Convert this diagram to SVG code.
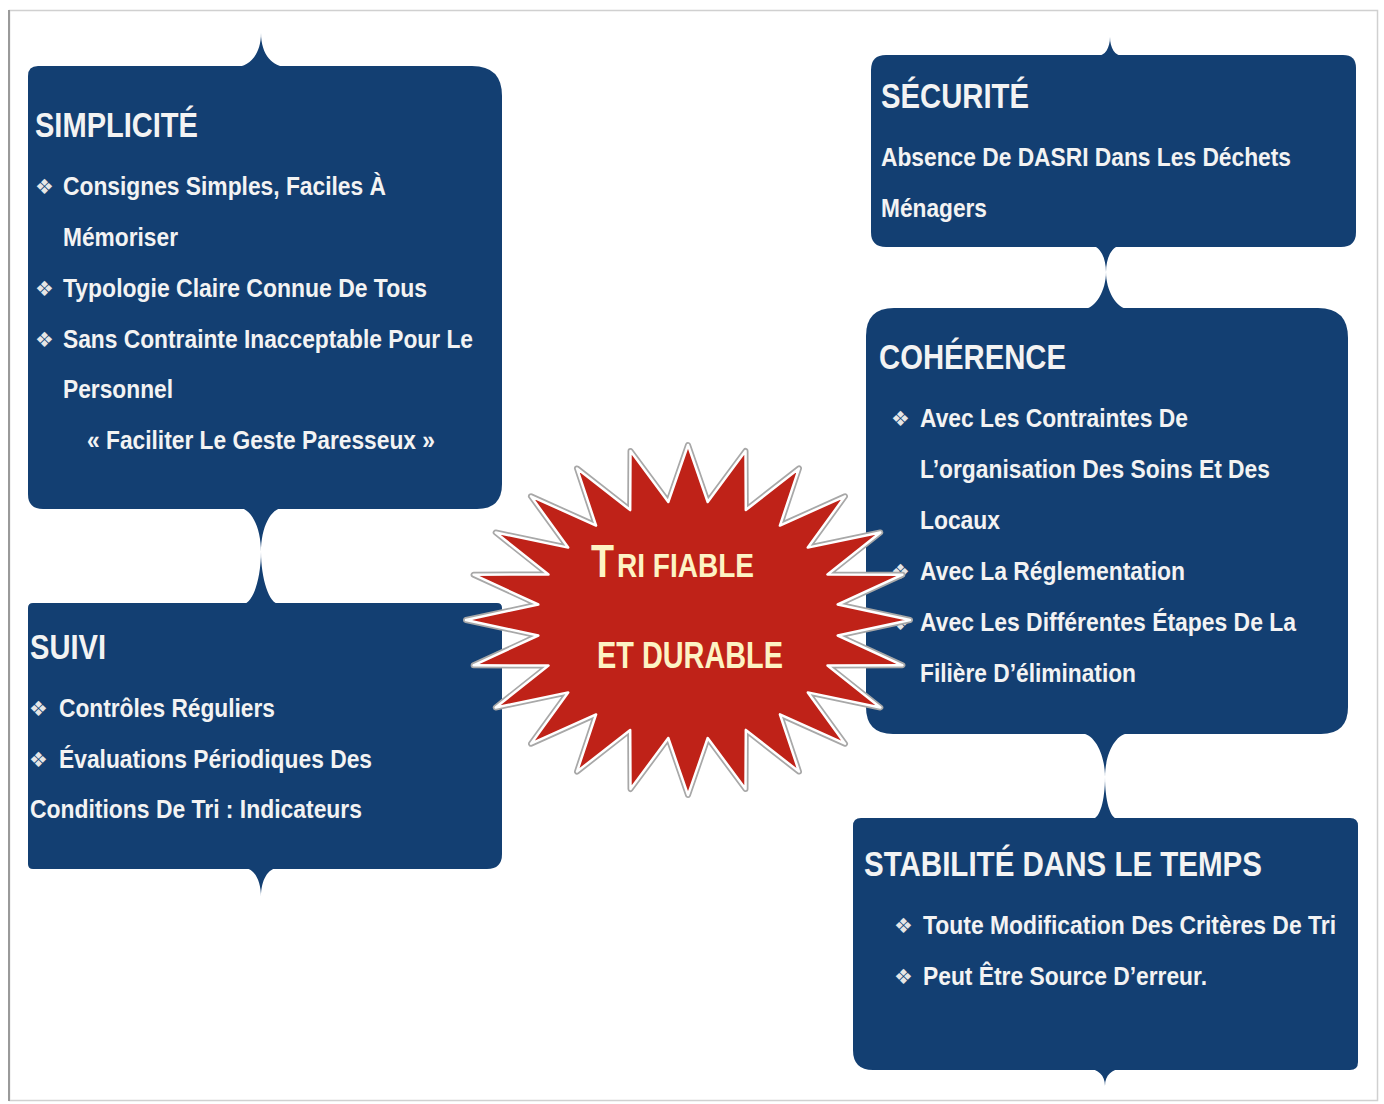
<svg xmlns="http://www.w3.org/2000/svg" width="1384" height="1104" viewBox="0 0 1384 1104">
<style>
.box{fill:#133f72}
.t{font-family:"Liberation Sans",Arial,sans-serif;font-weight:bold;fill:#f3f3f3}
.h{font-size:35px}
.b{font-size:25px}
.bul{font-family:"DejaVu Sans",sans-serif;font-size:21px;fill:#e6e6e6}
.st{font-family:"Liberation Sans",Arial,sans-serif;font-weight:bold;fill:#fdf3c4}
</style>
<rect x="0" y="0" width="1384" height="1104" fill="#ffffff"/>
<rect x="9.5" y="10.5" width="1368" height="1090" fill="#ffffff" stroke="#d0d0d0" stroke-width="1.5"/>
<line x1="9" y1="10" x2="9" y2="1101" stroke="#9a9a9a" stroke-width="2"/>

<g id="connectors">
  <path class="box" d="M235,67 C249,67 261,55 261,33 C261,55 273,67 287,67 Z"/>
  <path class="box" d="M239,508 C251,508 261,527 261,552 C261,578 253,604 243,604 L279,604 C269,604 261,578 261,552 C261,527 271,508 283,508 Z"/>
  <path class="box" d="M244,868 C254,868 261,880 261,897 C261,880 268,868 278,868 Z"/>
  <path class="box" d="M1097,56 C1105,56 1110,48 1110,37 C1110,48 1115,56 1123,56 Z"/>
  <path class="box" d="M1092,246 C1100,246 1106,258 1106,272 C1106,290 1096,309 1083,309 L1129,309 C1116,309 1106,290 1106,272 C1106,258 1112,246 1120,246 Z"/>
  <path class="box" d="M1080,733 C1095,733 1105,755 1105,777 C1105,800 1100,819 1092,819 L1118,819 C1110,819 1105,800 1105,777 C1105,755 1115,733 1130,733 Z"/>
  <path class="box" d="M1088,1069 C1098,1069 1105,1075 1105,1086 C1105,1075 1112,1069 1122,1069 Z"/>
</g>

<g id="simplicite">
  <path class="box" d="M38,66 H472 Q502,66 502,96 V484 Q502,509 477,509 H43 Q28,509 28,494 V76 Q28,66 38,66 Z"/>
  <text class="t h" x="35" y="137" textLength="163" lengthAdjust="spacingAndGlyphs">SIMPLICITÉ</text>
  <text class="bul" x="35" y="194">❖</text>
  <text class="t b" x="63" y="195" textLength="323" lengthAdjust="spacingAndGlyphs">Consignes Simples, Faciles À</text>
  <text class="t b" x="63" y="246" textLength="115" lengthAdjust="spacingAndGlyphs">Mémoriser</text>
  <text class="bul" x="35" y="296">❖</text>
  <text class="t b" x="63" y="297" textLength="364" lengthAdjust="spacingAndGlyphs">Typologie Claire Connue De Tous</text>
  <text class="bul" x="35" y="347">❖</text>
  <text class="t b" x="63" y="348" textLength="410" lengthAdjust="spacingAndGlyphs">Sans Contrainte Inacceptable Pour Le</text>
  <text class="t b" x="63" y="398" textLength="110" lengthAdjust="spacingAndGlyphs">Personnel</text>
  <text class="t b" x="87" y="449" textLength="348" lengthAdjust="spacingAndGlyphs">« Faciliter Le Geste Paresseux »</text>
</g>

<g id="suivi">
  <path class="box" d="M33,603 H497 Q502,603 502,608 V854 Q502,869 487,869 H33 Q28,869 28,864 V608 Q28,603 33,603 Z"/>
  <text class="t h" x="30" y="659" textLength="76" lengthAdjust="spacingAndGlyphs">SUIVI</text>
  <text class="bul" x="29" y="716">❖</text>
  <text class="t b" x="59" y="717" textLength="216" lengthAdjust="spacingAndGlyphs">Contrôles Réguliers</text>
  <text class="bul" x="29" y="767">❖</text>
  <text class="t b" x="59" y="768" textLength="313" lengthAdjust="spacingAndGlyphs">Évaluations Périodiques Des</text>
  <text class="t b" x="30" y="818" textLength="332" lengthAdjust="spacingAndGlyphs">Conditions De Tri : Indicateurs</text>
</g>

<g id="securite">
  <path class="box" d="M886,55 H1343 Q1356,55 1356,68 V232 Q1356,247 1341,247 H886 Q871,247 871,232 V70 Q871,55 886,55 Z"/>
  <text class="t h" x="881" y="108" textLength="148" lengthAdjust="spacingAndGlyphs">SÉCURITÉ</text>
  <text class="t b" x="881" y="166" textLength="410" lengthAdjust="spacingAndGlyphs">Absence De DASRI Dans Les Déchets</text>
  <text class="t b" x="881" y="217" textLength="106" lengthAdjust="spacingAndGlyphs">Ménagers</text>
</g>

<g id="coherence">
  <path class="box" d="M894,308 H1318 Q1348,308 1348,338 V707 Q1348,734 1321,734 H893 Q866,734 866,707 V336 Q866,308 894,308 Z"/>
  <text class="t h" x="879" y="369" textLength="187" lengthAdjust="spacingAndGlyphs">COHÉRENCE</text>
  <text class="bul" x="891" y="426">❖</text>
  <text class="t b" x="920" y="427" textLength="268" lengthAdjust="spacingAndGlyphs">Avec Les Contraintes De</text>
  <text class="t b" x="920" y="478" textLength="350" lengthAdjust="spacingAndGlyphs">L’organisation Des Soins Et Des</text>
  <text class="t b" x="920" y="529" textLength="80" lengthAdjust="spacingAndGlyphs">Locaux</text>
  <text class="bul" x="891" y="579">❖</text>
  <text class="t b" x="920" y="580" textLength="265" lengthAdjust="spacingAndGlyphs">Avec La Réglementation</text>
  <text class="bul" x="891" y="630">❖</text>
  <text class="t b" x="920" y="631" textLength="376" lengthAdjust="spacingAndGlyphs">Avec Les Différentes Étapes De La</text>
  <text class="t b" x="920" y="682" textLength="216" lengthAdjust="spacingAndGlyphs">Filière D’élimination</text>
</g>

<g id="stabilite">
  <path class="box" d="M861,818 H1350 Q1358,818 1358,826 V1062 Q1358,1070 1350,1070 H873 Q853,1070 853,1050 V826 Q853,818 861,818 Z"/>
  <text class="t h" x="864" y="876" textLength="398" lengthAdjust="spacingAndGlyphs">STABILITÉ DANS LE TEMPS</text>
  <text class="bul" x="894" y="933">❖</text>
  <text class="t b" x="923" y="934" textLength="413" lengthAdjust="spacingAndGlyphs">Toute Modification Des Critères De Tri</text>
  <text class="bul" x="894" y="984">❖</text>
  <text class="t b" x="923" y="985" textLength="284" lengthAdjust="spacingAndGlyphs">Peut Être Source D’erreur.</text>
</g>

<g id="star">
  <polygon points="688,445 707.7,502 745.5,451 745.8,510.1 799,468.4 779.9,525.6 845,496.3 807.8,547.6 880.3,532.5 827.5,574.5 902.4,574.7 837.7,604.5 910,620 837.7,635.5 902.4,665.3 827.5,665.5 880.3,707.5 807.8,692.4 845,743.7 779.9,714.4 799,771.6 745.8,729.9 745.5,789 707.7,738 688,795 668.3,738 630.5,789 630.2,729.9 577,771.6 596.1,714.4 531,743.7 568.2,692.4 495.7,707.5 548.5,665.5 473.6,665.3 538.3,635.5 466,620 538.3,604.5 473.6,574.7 548.5,574.5 495.7,532.5 568.2,547.6 531,496.3 596.1,525.6 577,468.4 630.2,510.1 630.5,451 668.3,502" fill="#bf2218" stroke="#a8a8a8" stroke-width="6" stroke-linejoin="round"/>
  <polygon points="688,445 707.7,502 745.5,451 745.8,510.1 799,468.4 779.9,525.6 845,496.3 807.8,547.6 880.3,532.5 827.5,574.5 902.4,574.7 837.7,604.5 910,620 837.7,635.5 902.4,665.3 827.5,665.5 880.3,707.5 807.8,692.4 845,743.7 779.9,714.4 799,771.6 745.8,729.9 745.5,789 707.7,738 688,795 668.3,738 630.5,789 630.2,729.9 577,771.6 596.1,714.4 531,743.7 568.2,692.4 495.7,707.5 548.5,665.5 473.6,665.3 538.3,635.5 466,620 538.3,604.5 473.6,574.7 548.5,574.5 495.7,532.5 568.2,547.6 531,496.3 596.1,525.6 577,468.4 630.2,510.1 630.5,451 668.3,502" fill="#bf2218" stroke="#ffffff" stroke-width="2.5" stroke-linejoin="round"/>
  <text class="st" x="591" y="577"><tspan font-size="46" textLength="23" lengthAdjust="spacingAndGlyphs">T</tspan><tspan font-size="33" x="617" textLength="137" lengthAdjust="spacingAndGlyphs">RI FIABLE</tspan></text>
  <text class="st" x="597" y="668" font-size="37" textLength="186" lengthAdjust="spacingAndGlyphs">ET DURABLE</text>
</g>
</svg>
